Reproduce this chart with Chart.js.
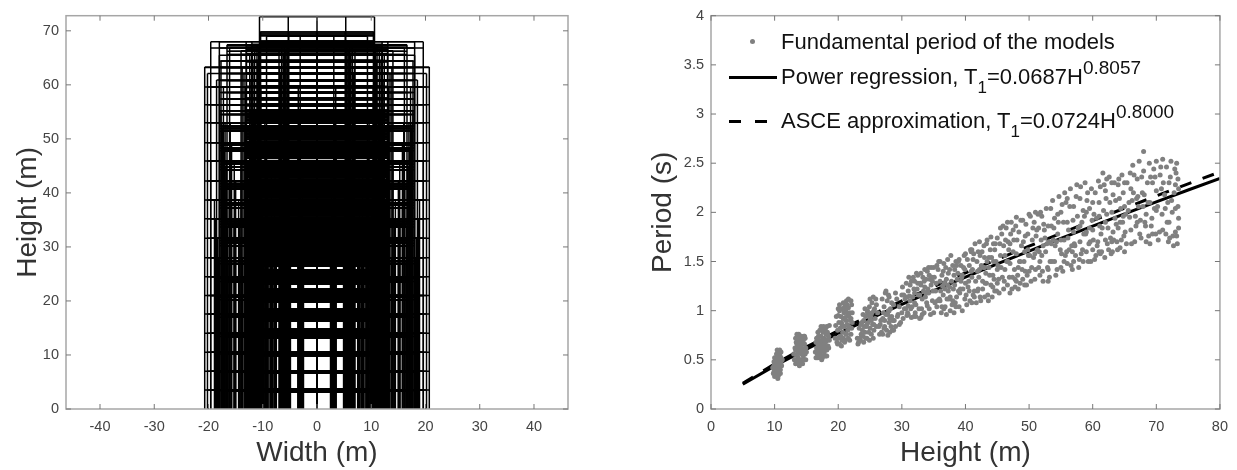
<!DOCTYPE html>
<html lang="en">
<head>
    <meta charset="UTF-8">
    <title>Building models and fundamental period</title>
    <style>
        body { margin: 0; background: #fff; width: 1237px; height: 470px; position: relative; overflow: hidden; }
        canvas { position: absolute; top: 0; }
        #leftChart { left: 0; }
        #rightChart { left: 640px; }
        .leg { position: absolute; left: 781px; font: 22px "Liberation Sans", Arial, sans-serif; color: #111; white-space: nowrap; line-height: 24px; }
        .leg sub, .leg sup { line-height: 0; vertical-align: baseline; position: relative; }
        .leg sub { top: 9px; font-size: 17px; }
        .leg sup { top: -10px; font-size: 19px; }
        .dot { position: absolute; left: 750px; top: 39px; width: 5px; height: 5px; border-radius: 50%; background: #808080; }
        .solid { position: absolute; left: 729px; top: 76px; width: 48px; height: 3px; background: #000; }
        .dash { position: absolute; top: 120px; height: 3px; background: #000; width: 12px; }
    </style>
</head>
<body>
    <canvas id="leftChart" width="600" height="470"></canvas>
    <canvas id="rightChart" width="597" height="470"></canvas>
    <div class="dot"></div>
    <div class="leg" style="top: 30px">Fundamental period of the models</div>
    <div class="solid"></div>
    <div class="leg" style="top: 65px">Power regression, T<sub>1</sub>=0.0687H<sup>0.8057</sup></div>
    <div class="dash" style="left: 729px"></div>
    <div class="dash" style="left: 755px"></div>
    <div class="leg" style="top: 109px">ASCE approximation, T<sub>1</sub>=0.0724H<sup>0.8000</sup></div>

    <script src="https://cdn.jsdelivr.net/npm/chart.js"></script>
    <script>
        // left panel: building frames, one entry per model
        const frameBays = [
            4, 4, 3, 4, 4, 4, 4, 4, 4,
            6, 6, 4, 6, 6, 6, 6, 6, 6, 6, 5,
            4, 4, 4, 4, 4, 4, 4, 4, 4, 4, 4, 4, 4,
            5, 5, 5, 5, 5, 5,
            5, 5, 5, 5, 5, 5, 5, 5, 5, 5, 5, 5, 5, 5,
            6, 6, 6, 6, 6, 6, 6, 6, 6, 6, 6, 6, 6, 6, 6, 6, 7, 6
        ];
        const frameBayWidth = [
            5.3, 5.2, 6.2, 6.5, 6, 5.75, 6.2, 5.5, 6.6,
            5.53, 5.37, 7, 6, 6, 6.53, 6.9, 6.73, 6.17, 5.9, 6.9,
            4.9, 5.05, 5.2, 5.35, 5.5, 5.65, 5.8, 5.95, 6.1, 6.25, 6.4, 6.55, 6.65,
            5.05, 5, 5.1, 5.2, 5.3, 5.15,
            5.5, 5.6, 5.7, 5.78, 6, 6.1, 6.3, 6.4, 6.5, 6.6, 6.7, 6.8, 6.95, 7,
            5, 5.1, 5.25, 5.4, 5.6, 5.7, 5.8, 5.9, 6.05, 6.1, 6.25, 6.3, 5.05, 5.55, 5.75, 5.85, 5.6, 5.65
        ];
        const frameTop = [
            72.6, 69.8, 69, 67, 67.5, 66.5, 65.5, 64.4, 59.6,
            67.4, 66.8, 66.3, 68, 65.5, 68, 63.3, 62.1, 60.9, 64.4, 59.6,
            27.2, 31, 34.5, 38, 41.5, 45, 28, 48, 52, 30, 44, 36, 52,
            27.2, 31, 35, 38.5, 42, 46,
            28, 31.6, 35.2, 38.7, 42.2, 45.9, 49.3, 53, 27.2, 34, 38, 42, 48, 52,
            30.7, 34.2, 37.7, 41.2, 44.8, 48.3, 51.9, 55.2, 28, 31.6, 35.2, 38.7, 42.2, 45.9, 49.3, 53, 45.9, 53
        ];
        // which floor list a frame uses: 0 core, 1 middle, 2 wide
        const frameFloorSet = [
            0, 0, 0, 0, 0, 0, 0, 0, 0,
            1, 1, 1, 2, 1, 2, 2, 2, 2, 1, 1,
            0, 0, 0, 0, 0, 0, 0, 0, 0, 0, 0, 0, 0,
            0, 0, 0, 0, 0, 0,
            1, 1, 1, 1, 1, 1, 1, 1, 1, 1, 1, 1, 1, 1,
            1, 1, 1, 1, 1, 1, 1, 1, 2, 2, 2, 2, 1, 1, 1, 1, 2, 1
        ];
        const coreFloors = [
            3.2, 3.45, 3.65, 6.6, 6.85, 7.05, 9.9, 10.15, 10.4,
            13.2, 13.5, 13.8, 14.1, 14.4, 14.7,
            16.35, 16.65, 16.95, 17.25, 17.55, 17.85, 18.15, 18.4,
            19.85, 20.15, 20.45, 20.75, 21.05, 21.35, 21.65, 21.95, 22.1,
            23.15, 23.45, 23.75, 24.05, 24.35, 24.65, 24.95, 25.25, 25.55, 25.75,
            26.45, 26.65, 26.95, 27.25, 27.55, 27.85, 28.15, 28.45, 28.75, 29.05, 29.35, 29.65, 29.95,
            30.25, 30.55, 30.85, 31.15, 31.45, 31.75, 32.05, 32.35, 32.65, 32.95, 33.25, 33.55, 33.85,
            34.15, 34.45, 34.75, 35.05, 35.45, 35.9, 36.25, 36.55, 36.85, 37.15, 37.45, 37.75, 38.05,
            38.35, 38.8, 39.25, 39.6, 39.9, 40.2, 40.5, 40.8, 41.1, 41.4, 41.7, 42, 42.4,
            42.85, 43.1, 43.4, 43.7, 44, 44.3, 44.6, 44.9, 45.2, 45.5, 45.95, 46.4, 46.6, 46.9, 47.2,
            47.5, 47.8, 48.1, 48.4, 48.7, 49, 49.45, 49.9, 50.2, 50.5, 50.8, 51.1, 51.4, 51.7, 52, 52.3, 52.9,
            53.3, 53.6, 53.9, 54.2, 54.5, 54.8, 55.1, 55.35, 56.15, 56.4, 57.3, 57.55, 58.5, 58.7,
            59.5, 59.75, 60.7, 60.95, 62, 62.25, 63.1, 63.35, 64.25, 64.5, 65.5, 65.8, 66.2, 66.5,
            67.2, 67.5, 67.8, 68.1, 69.1, 69.4, 69.8
        ];
        const middleFloors = [
            3.4, 6.8, 10.2, 13.4, 13.9, 17, 17.5, 20.2, 20.7, 23.6, 24.1, 26.9, 27.4,
            30.2, 30.7, 31.2, 33.7, 34.2, 34.7, 37.2, 37.7, 38.2, 40.7, 41.2, 41.7, 42.2,
            44.3, 44.8, 45.3, 45.8, 47.8, 48.3, 48.8, 49.3, 51.4, 51.9, 52.4, 52.9,
            54.5, 55.2, 56.3, 57.4, 58.6, 59.6, 60.8, 62.1, 63.2, 64.4, 65.6, 66.2, 67.2, 67.8
        ];
        const wideFloors = [
            3.5, 7, 10.5, 14, 17.6, 21, 24.5, 28, 31.6, 35.2, 38.7, 42.2, 45.9, 49.3, 53, 56.3, 59.6, 63.2, 66.8
        ];
        const widthTicks = [-40, -30, -20, -10, 0, 10, 20, 30, 40];
        const heightTicks = [0, 10, 20, 30, 40, 50, 60, 70];

        // right panel: one point per model, grouped by height band
        const modelHeight = [
            [9.9,10,10,10.1,10.1,10.2,10.2,10.3,10.3,10.4,10.4,10.5,10.5,10.6,10.6,10.7,10.7,10.8,10.8,10.9,10.9,11,11,10.2,10.5,10.8],
            [9.7,9.8,9.9,10,10.2,10.3,10.5,10.6,10.7,10.9,11,11.1,11.2,9.9,10.4,10.8],
            [13.2,13.3,13.3,13.4,13.5,13.5,13.6,13.6,13.7,13.7,13.8,13.8,13.9,13.9,14,14,14.1,14.1,14.2,14.2,14.3,14.3,14.4,14.4,14.5,14.5,14.6,14.7,14.7,14.8,14.9,13.6,14,14.3],
            [13,13.1,13.2,13.3,13.5,13.7,13.9,14.2,14.4,14.6,14.8,15,13.4,14.7,14.9,13.8],
            [16.5,16.6,16.6,16.7,16.8,16.8,16.9,17,17,17.1,17.1,17.2,17.3,17.3,17.4,17.4,17.5,17.5,17.6,17.6,17.7,17.8,17.8,17.9,17.9,18,18,18.1,18.2,18.2,18.3,18.4,18.5,18.6],
            [16.4,16.5,16.7,16.9,17.1,17.4,17.7,18,18.3,18.5,18.6,16.8,17.3,17.8,18.2],
            [19.8,19.9,20,20,20.1,20.2,20.2,20.3,20.4,20.4,20.5,20.6,20.6,20.7,20.8,20.8,20.9,21,21,21.1,21.2,21.2,21.3,21.4,21.4,21.5,21.6,21.6,21.7,21.8,21.8,21.9,22,22,22.1,22.1,20.6,21.1,21.5],
            [19.5,19.6,19.7,20,20.2,20.5,20.8,21,21.3,21.7,22,22.2,19.9,20.3,20.7,21.2,21.6,22.2],
            [23.2,23.4,23.6,23.8,23.9,24,24.2,24.3,24.4,24.5,24.6,24.7,24.8,24.9,25,25,25.1,25.2,25.3,25.4,25.5,25.6,25.6,25.8,25.9,26,26,24.2,24.8,25.3],
            [23,23.1,23.3,23.5,23.7,24,24.3,24.6,24.9,25.2,25.5,25.7,23.9,24.5,25,25.6,24.1,23.6],
            [26.6,26.8,27,27,27.2,27.3,27.4,27.5,27.6,27.7,27.8,27.9,28,28,28.1,28.2,28.3,28.4,28.5,28.7,28.8,29,29.2,29.4,29.6,29.8,30,30,27.3,28],
            [26.2,26.4,26.5,26.9,27.1,27.5,27.8,28.1,28.4,28.7,29,29.3,29.6,26.7,27.2,27.9,28.6],
            [30.2,30.5,30.8,31,31,31.3,31.5,31.7,31.9,32,32,32.2,32.4,32.5,32.7,32.9,33,33,33.2,33.3,33.5,33.6,33.8,34,34,34.2,34.3,34.5,34.6,34.8,35,35,31.4,32.8,33.7,34.4,30.6,31.2],
            [30.1,30.4,30.7,30.9,31.1,31.3,31.6,31.8,32,32.1,32.3,32.6,32.8,33,33.1,33.4,33.6,33.9,34.1,34.3,34.6,34.7,34.9,30.3,31,31.9,32.5,33.2,33.5,34.2,30.8,31.5,32.2,33.8,34.8],
            [35.3,35.5,35.7,35.9,36,36,36.2,36.3,36.5,36.6,36.8,37,37,37.2,37.3,37.5,37.6,37.8,38,38,38.2,38.3,38.5,38.6,38.8,39,39,39.2,39.4,39.5,39.7,39.9,40,40,36.4,37.4,38.4,39.3],
            [35.1,35.4,35.6,35.8,36.1,36.3,36.5,36.7,36.9,37.1,37.3,37.5,37.7,37.9,38.1,38.3,38.5,38.7,38.9,39.1,39.3,39.6,39.8,35.5,36,36.8,37.6,38.2,38.9,39.5,35.2,37.2,38.6,39.9,36.6],
            [40.2,40.4,40.6,40.8,41,41,41.2,41.4,41.5,41.7,41.9,42,42,42.2,42.4,42.5,42.7,42.9,43,43,43.2,43.4,43.5,43.7,43.9,44,44,44.2,44.4,44.5,44.7,44.9,45,45,41.1,42.3,43.3,44.3],
            [40.1,40.3,40.5,40.7,40.9,41.2,41.3,41.6,41.8,42.1,42.3,42.6,42.8,43.1,43.3,43.6,43.8,44.1,44.3,44.6,44.8,40.6,41.4,42.2,43.4,44.4,40.9,41.9,42.7,43.7,44.6,45,43,41],
            [45.3,45.5,45.7,46,46,46.2,46.4,46.6,46.8,47,47,47.2,47.4,47.6,47.8,48,48,48.2,48.4,48.6,48.8,49,49,49.2,49.4,49.6,49.8,50,50,45.8,46.7,47.5,48.3,49.3],
            [45.2,45.4,45.6,45.9,46.1,46.3,46.5,46.7,46.9,47.1,47.3,47.5,47.7,47.9,48.1,48.3,48.5,48.7,48.9,49.1,49.3,49.5,49.7,49.9,45.5,46.2,47,47.8,48.6,49.4,46.6,48,49.8,45.1],
            [50.3,50.5,50.8,51,51,51.3,51.5,51.7,52,52,52.2,52.5,52.7,53,53,53.2,53.5,53.7,54,54,54.2,54.5,54.7,55,55,50.7,51.6,52.4,53.3,54.3,51.2,52.8],
            [50.1,50.4,50.6,50.9,51.1,51.4,51.7,51.9,52.1,52.3,52.6,52.9,53.1,53.4,53.6,53.9,54.1,54.4,54.6,54.9,50.2,50.9,51.8,52.2,53,53.8,54.5,55,51.5,53.5],
            [55.3,55.5,55.8,56,56,56.3,56.5,56.8,57,57,57.3,57.5,57.8,58,58,58.3,58.5,58.8,59,59,59.3,59.5,59.8,60,60,55.7,56.7,57.6,58.6,59.6,56.2,57.2,58.2,59.2],
            [55.1,55.4,55.6,55.9,56.1,56.4,56.6,56.9,57.1,57.4,57.7,57.9,58.1,58.4,58.7,58.9,59.1,59.4,59.7,59.9,55.2,56,57,58,59,60,56.8,58.5,55.5,59.5],
            [60.3,60.6,60.9,61,61,61.3,61.6,61.9,62,62,62.3,62.6,62.9,63,63,63.3,63.6,63.9,64,64,64.3,64.6,64.9,65,65,60.8,61.5,62.2,63.2,64.2,61.2,62.8,63.7,64.8],
            [60.1,60.4,60.7,61,61.2,61.4,61.7,62,62.2,62.4,62.7,63,63.2,63.5,63.8,64.1,64.3,64.5,64.8,65,60.5,61.8,62.5,63.4,64.4,60.2,62.1,64.7,63.1,61.1],
            [65.3,65.6,65.9,66,66,66.3,66.6,66.9,67,67,67.3,67.6,67.9,68,68,68.3,68.6,68.9,69,69,69.3,69.6,69.9,70,70,65.8,66.8,67.8,68.4,69.4],
            [65.1,65.4,65.7,66.1,66.4,66.7,67.1,67.4,67.7,68.1,68.4,68.7,69.1,69.4,69.7,65.2,66.2,67.2,68.2,69.2,70,66.5,68.8,69.8,67.5],
            [70.3,70.6,70.9,71,71,71.3,71.6,71.9,72,72,72.3,72.6,72.9,73,73,73.2,73.3,73.4,73.5,73.5,71.4,72.4,73.1,72.7],
            [70.2,70.5,70.8,71.1,71.5,71.8,72.1,72.5,72.8,73.2,73.4,70.7,71.7,72.2,73,73.5]
        ];
        const modelPeriod = [
            [.38,.33,.47,.36,.42,.40,.5,.35,.45,.39,.52,.36,.48,.42,.55,.38,.5,.44,.56,.4,.53,.47,.58,.44,.41,.37],
            [.42,.36,.44,.52,.34,.56,.31,.34,.58,.36,.52,.44,.5,.48,.6,.6],
            [.5,.6,.72,.55,.48,.66,.62,.75,.52,.7,.58,.76,.5,.64,.6,.72,.48,.68,.56,.74,.5,.62,.66,.72,.54,.7,.6,.5,.66,.56,.62,.56,.66,.58],
            [.56,.5,.62,.46,.76,.46,.44,.47,.46,.74,.72,.58,.68,.74,.5,.68],
            [.52,.62,.72,.56,.66,.78,.6,.52,.7,.62,.8,.56,.74,.66,.6,.82,.52,.7,.64,.78,.84,.58,.72,.62,.8,.54,.68,.76,.6,.84,.7,.64,.74,.85],
            [.58,.68,.52,.74,.56,.5,.54,.82,.78,.62,.7,.6,.84,.66,.54],
            [.68,.8,.72,.95,.88,.66,1,.82,.74,.94,.88,.7,1.02,.78,.92,.72,.98,.84,1.04,.7,.9,1,.76,.86,1.06,.96,.72,1.03,.84,.7,.98,.9,.76,1.1,.82,1.06,.86,.93,.8],
            [.72,.85,.94,1.02,1.06,.64,1.08,.68,1.1,.94,.92,.88,.66,.74,.84,.76,1.12,.98],
            [.68,.72,.76,.8,.74,.9,.78,.94,.84,.72,1,.88,.78,1.04,.82,1.12,.94,.76,1.08,.86,1.14,.8,1,.92,1.12,.84,1.06,1.02,.96,.98],
            [.72,.66,.82,.7,.88,.68,.72,.98,.7,.9,.72,1.02,.96,.86,.92,.86,.84,.86],
            [.86,.78,.92,.76,1.04,.84,1.18,.96,.8,1.1,.75,1,.88,1.14,.78,1.02,.84,.94,.8,1.06,.9,.84,1.12,.96,1.04,.88,1.16,.98,.9,1],
            [.98,.84,.76,1.12,.98,1.2,.96,.92,1.08,.8,1.18,.94,.86,.9,.82,1.16,.9],
            [.92,1.12,.95,1.2,1.05,1.26,.93,1.14,.94,1.3,1.08,.94,1.22,1.36,1.02,1.28,.93,1.38,1.12,1.34,.98,1.24,1.32,1.05,1.4,1.18,1.36,.96,1.26,1.1,.98,1.44,1.02,1.16,1.14,1.32,1.02,1.15],
            [1.24,1.02,1.28,.98,1.34,1.1,1.04,1.34,1.18,.98,1.38,1.16,.92,1.26,1.02,1.2,1.42,1.08,1.22,1.02,1.44,1.34,1.2,1.16,.96,1.22,1.28,.96,1.3,1.44,1.14,1.3,1.06,1.18,1.3],
            [1.2,1.04,1.42,1.12,1.3,1.5,.98,1.36,1.16,1.48,1.04,.96,1.32,1.52,1.2,1.42,1,1.3,1.1,1.46,.98,1.26,1.5,1.14,1.38,1.04,1.52,1.22,1.34,1,1.44,1.12,1.28,1.58,1.25,1.12,1.08,1.46],
            [1.34,1.28,1.1,1.5,1.2,1.04,1.4,1.28,1.44,1.12,1.38,1.24,1.56,1.06,1.22,1.42,1.04,1.32,1.5,1.18,1.3,1.22,1.56,1.46,1.1,1.22,1.14,1.36,1.2,1.36,1.08,1.26,1.46,1.42,1.02],
            [1.06,1.24,1.46,1.62,1.08,1.34,1.52,1.2,1.68,1.08,1.4,1.6,1.22,1.7,1.1,1.46,1.3,1.66,1.14,1.54,1.38,1.72,1.16,1.44,1.62,1.26,1.75,1.14,1.5,1.32,1.68,1.2,1.42,1.74,1.42,1.56,1.28,1.36],
            [1.16,1.52,1.3,1.1,1.4,1.16,1.58,1.3,1.5,1.34,1.14,1.6,1.44,1.28,1.68,1.1,1.36,1.54,1.24,1.62,1.5,1.2,1.14,1.42,1.5,1.68,1.6,1.2,1.22,1.54,1.2,1.28,1.44,1.62],
            [1.18,1.56,1.78,1.22,1.66,1.42,1.84,1.26,1.62,1.18,1.48,1.9,1.34,1.72,1.24,1.58,1.95,1.36,1.8,1.28,1.66,1.32,1.92,1.5,1.76,1.26,1.62,1.4,1.98,1.34,1.5,1.82,1.44,1.6],
            [1.32,1.68,1.44,1.86,1.3,1.72,1.5,1.7,1.34,1.78,1.22,1.6,1.42,1.86,1.72,1.22,1.5,1.92,1.42,1.7,1.26,1.88,1.36,1.56,1.84,1.56,1.68,1.32,1.5,1.4,1.9,1.3,1.78,1.46],
            [1.3,1.72,1.9,1.42,2,1.62,1.84,1.36,1.56,1.96,1.3,1.74,2.04,1.42,1.86,1.34,1.68,2.12,1.5,1.94,1.36,1.78,2.16,1.44,2,1.54,1.6,1.82,1.5,1.7,1.82,1.68],
            [1.56,1.44,1.84,1.32,1.76,1.98,1.5,1.72,1.4,1.88,1.6,1.44,1.7,2.04,1.5,1.84,1.66,1.42,1.9,1.62,1.96,1.58,2,1.66,1.3,1.72,1.98,1.72,1.44,1.86],
            [1.4,1.72,2.1,1.48,1.9,1.62,2.24,1.42,1.8,2.06,1.56,2.28,1.44,1.7,2.14,1.9,1.5,2.3,1.6,2,1.5,1.84,2.24,1.62,2.1,1.56,1.66,1.96,1.78,1.7,1.82,1.66,1.58,2.2],
            [1.58,1.9,2.2,1.6,1.74,2.06,1.46,1.92,1.68,2.16,1.84,1.52,2.26,1.62,1.96,1.78,2.12,1.68,1.5,1.92,2.08,2.14,1.5,1.86,1.8,1.82,1.6,2.02,1.5,2.04],
            [1.52,1.94,2.32,1.6,2.1,1.78,2.4,1.54,1.9,2.22,1.68,2.36,1.58,2,2.3,1.72,2.12,1.62,1.84,2.28,1.64,2.38,1.76,2.06,2.3,1.7,1.84,1.98,1.8,2.14,1.58,1.74,1.88,1.96],
            [1.72,2.2,1.66,1.96,2.26,1.6,2.02,1.72,2.34,1.84,2.1,1.7,2.18,1.94,1.7,2.34,1.9,1.72,2.2,1.6,1.56,2.28,1.62,2.3,2.04,1.98,2.14,1.9,1.6,1.86],
            [1.68,2.02,2.4,1.82,2.24,2.48,1.7,2.14,1.9,2.34,2.52,1.74,2.06,2.42,2.62,1.86,2.3,2.5,1.68,2.1,1.94,2.44,1.78,2.22,2.52,1.95,1.86,2.2,1.98,2.3],
            [1.8,2.3,2.1,1.68,2.2,1.96,2.16,1.78,2.36,2.18,1.7,2.1,2.36,1.78,2.04,1.98,2.12,2.06,1.9,1.86,2.02,2.38,1.76,2.36,1.92],
            [1.72,2.38,1.98,2.54,1.82,2.18,2.46,1.7,2.3,1.9,2.52,1.76,2.44,1.8,2.28,2.5,1.68,2.06,1.84,2.24,2.04,2.12,2.4,1.66],
            [2.06,1.8,2.24,2.3,1.78,2.1,1.74,2,2.2,1.76,2.34,2.46,1.9,2.36,2.04,1.94]
        ];
        const curveHeight = [5, 10, 15, 20, 25, 30, 35, 40, 45, 50, 55, 60, 65, 70, 75, 80];
        const regressionPeriod = [.251, .439, .609, .768, .919, 1.064, 1.205, 1.342, 1.475, 1.606, 1.735, 1.86, 1.984, 2.107, 2.227, 2.346];
        const ascePeriod = [.262, .457, .632, .796, .951, 1.1, 1.244, 1.385, 1.522, 1.656, 1.787, 1.916, 2.042, 2.167, 2.29, 2.411];
        const rightHeightTicks = [0, 10, 20, 30, 40, 50, 60, 70, 80];
        const periodTicks = [0, 0.5, 1, 1.5, 2, 2.5, 3, 3.5, 4];

        const tickFont = { family: '"Liberation Sans", Arial, sans-serif', size: 14.5 };
        const titleFont = { family: '"Liberation Sans", Arial, sans-serif', size: 28 };
        const boxColor = '#a6a6a6';

        // MATLAB style box with inward ticks on all four sides
        const boxPlugin = {
            id: 'box',
            afterDatasetsDraw(chart) {
                const { ctx, chartArea: a, scales } = chart;
                ctx.save();
                ctx.strokeStyle = boxColor;
                ctx.lineWidth = 1.5;
                ctx.strokeRect(a.left, a.top, a.right - a.left, a.bottom - a.top);
                ctx.lineWidth = 1;
                ctx.strokeStyle = '#777';
                ctx.beginPath();
                scales.x.ticks.forEach(t => {
                    const p = scales.x.getPixelForValue(t.value);
                    ctx.moveTo(p, a.bottom);
                    ctx.lineTo(p, a.bottom - 5);
                    ctx.moveTo(p, a.top);
                    ctx.lineTo(p, a.top + 5);
                });
                scales.y.ticks.forEach(t => {
                    const p = scales.y.getPixelForValue(t.value);
                    ctx.moveTo(a.left, p);
                    ctx.lineTo(a.left + 5, p);
                    ctx.moveTo(a.right, p);
                    ctx.lineTo(a.right - 5, p);
                });
                ctx.stroke();
                ctx.restore();
            }
        };

        function axis(label, min, max, ticks, isX, fitSize, titlePad, tickPad) {
            return {
                type: 'linear',
                min: min,
                max: max,
                afterBuildTicks: s => { s.ticks = ticks.map(v => ({ value: v })); },
                afterFit: s => { if (isX) s.height = fitSize; else s.width = fitSize; },
                grid: { display: false, drawTicks: false },
                border: { display: false },
                ticks: { font: tickFont, color: '#444', padding: tickPad, maxRotation: 0, callback: v => String(v) },
                title: { display: true, text: label, font: titleFont, color: '#333', padding: titlePad }
            };
        }

        function baseOptions(padRight, x, y) {
            return {
                responsive: false,
                animation: false,
                events: [],
                layout: { padding: { top: 14, right: padRight, left: 0, bottom: 0 } },
                plugins: { legend: { display: false }, tooltip: { enabled: false } },
                scales: { x: x, y: y }
            };
        }

        // one polyline per frame, NaN points break it into floors and columns
        function frameLines(i) {
            const sets = [coreFloors, middleFloors, wideFloors];
            const half = frameBays[i] * frameBayWidth[i] / 2;
            const top = frameTop[i];
            const pts = [];
            sets[frameFloorSet[i]].filter(f => f < top).concat([top]).forEach(f => {
                pts.push({ x: -half, y: f }, { x: half, y: f }, { x: NaN, y: NaN });
            });
            for (let b = 0; b <= frameBays[i]; b++) {
                const x = -half + b * frameBayWidth[i];
                pts.push({ x: x, y: 0 }, { x: x, y: top }, { x: NaN, y: NaN });
            }
            return pts;
        }

        const modelPoints = [];
        modelHeight.forEach((group, g) => {
            group.forEach((h, i) => modelPoints.push({ x: h, y: modelPeriod[g][i] }));
        });

        new Chart(document.getElementById('leftChart'), {
            type: 'scatter',
            data: {
                datasets: frameBays.map((n, i) => ({
                    data: frameLines(i),
                    showLine: true,
                    spanGaps: false,
                    borderColor: '#000',
                    borderWidth: 1.5,
                    pointRadius: 0
                }))
            },
            options: baseOptions(32,
                axis('Width (m)', -46.27, 46.27, widthTicks, true, 61, { top: 5, bottom: 0 }, 9),
                axis('Height (m)', 0, 72.8, heightTicks, false, 66, { top: 11, bottom: 0 }, 7)),
            plugins: [boxPlugin]
        });

        new Chart(document.getElementById('rightChart'), {
            type: 'scatter',
            data: {
                datasets: [
                    {
                        data: modelPoints,
                        backgroundColor: '#808080',
                        borderWidth: 0,
                        pointRadius: 2.5
                    },
                    {
                        data: curveHeight.map((h, i) => ({ x: h, y: ascePeriod[i] })),
                        showLine: true,
                        borderColor: '#000',
                        borderWidth: 3,
                        borderDash: [12, 12],
                        pointRadius: 0
                    },
                    {
                        data: curveHeight.map((h, i) => ({ x: h, y: regressionPeriod[i] })),
                        showLine: true,
                        borderColor: '#000',
                        borderWidth: 3,
                        pointRadius: 0
                    }
                ]
            },
            options: baseOptions(15,
                axis('Height (m)', 0, 80, rightHeightTicks, true, 61, { top: 5, bottom: 0 }, 9),
                axis('Period (s)', 0, 4, periodTicks, false, 71, { top: 6, bottom: 0 }, 7)),
            plugins: [boxPlugin]
        });
    </script>
</body>
</html>
